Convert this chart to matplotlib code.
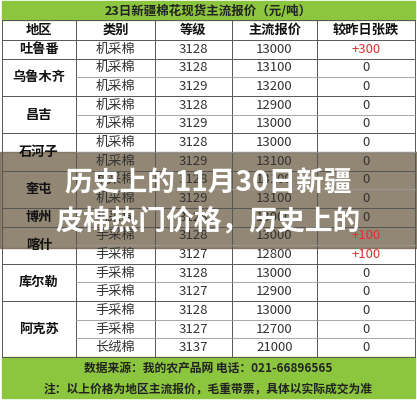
import matplotlib.pyplot as plt
from matplotlib.patches import Rectangle

plt.rcParams['font.family'] = ['Noto Sans CJK SC', 'DejaVu Sans']

title = "23日新疆棉花现货主流报价（元/吨）"
headers = ["地区", "类别", "等级", "主流报价", "较昨日张跌"]
regions = [("吐鲁番", 1), ("乌鲁木齐", 2), ("昌吉", 2), ("石河子", 2), ("奎屯", 2),
           ("博州", 1), ("喀什", 2), ("库尔勒", 2), ("阿克苏", 3)]
kinds = ["机采棉"] * 10 + ["手采棉"] * 6 + ["长绒棉"]
grades = [3128, 3128, 3129, 3128, 3129, 3128, 3129, 3128, 3129, 3128,
          3128, 3127, 3128, 3127, 3128, 3127, 3137]
prices = [13000, 13100, 13200, 12900, 13000, 13000, 13100, 13100, 13100, 13000,
          13000, 12800, 13000, 12900, 13000, 12700, 21000]
changes = ["+300", "0", "0", "0", "0", "0", "0", "0", "0", "0",
           "+100", "+100", "0", "0", "0", "0", "0"]
footer1 = "数据来源：我的农产品网 电话：021-66896565"
footer2 = "注：以上价格为地区主流报价，毛重带票，具体以实际成交为准"
overlay = ["历史上的11月30日新疆", "皮棉热门价格，历史上的"]

W, H = 417, 400
fig = plt.figure(figsize=(W / 100, H / 100), dpi=100)
ax = fig.add_axes([0, 0, 1, 1])
ax.set_xlim(0, W)
ax.set_ylim(H, 0)
ax.axis('off')

green = '#8cc63e'
cols = [2, 76, 155, 232, 317, 415]
top, head_h, row_h = 20, 20, 18.65
body_top = top + head_h
n = len(kinds)
body_bot = body_top + n * row_h

ax.add_patch(Rectangle((0, 0), W, H, color='white'))
ax.add_patch(Rectangle((2, 1), 413, top - 1, color=green))
ax.text(208, top / 2 + 1, title, ha='center', va='center', fontsize=9, weight='bold',
        color='#222222')
for i, h in enumerate(headers):
    ax.text((cols[i] + cols[i + 1]) / 2, top + head_h / 2, h, ha='center', va='center',
            fontsize=9.5, weight='bold', color='#111111')
lc = '#555555'
ax.plot([2, 415], [top, top], color=lc, lw=0.7)
ax.plot([2, 415], [body_top, body_top], color=lc, lw=0.7)
for x in cols:
    ax.plot([x, x], [top, body_bot], color=lc, lw=0.7)

r = 0
for name, span in regions:
    y0 = body_top + r * row_h
    ax.text((cols[0] + cols[1]) / 2, y0 + span * row_h / 2, name, ha='center', va='center',
            fontsize=9.5, weight='bold', color='#111111')
    ax.plot([2, 415], [y0 + span * row_h] * 2, color=lc, lw=0.7)
    for k in range(1, span):
        ax.plot([cols[1], 415], [y0 + k * row_h] * 2, color='#999999', lw=0.6)
    r += span

for i in range(n):
    yc = body_top + (i + 0.5) * row_h
    vals = [kinds[i], str(grades[i]), str(prices[i]), changes[i]]
    for j, v in enumerate(vals):
        c = '#e03030' if (j == 3 and v.startswith('+')) else '#333333'
        ax.text((cols[j + 1] + cols[j + 2]) / 2, yc, v, ha='center', va='center',
                fontsize=9.5, color=c)

ax.add_patch(Rectangle((2, body_bot), 413, H - body_bot - 2, color=green))
ax.text(208, body_bot + 11, footer1, ha='center', va='center', fontsize=8.5,
        weight='bold', color='#222222')
ax.text(208, body_bot + 32, footer2, ha='center', va='center', fontsize=8.5,
        weight='bold', color='#222222')

ax.add_patch(Rectangle((0, 152), W, 96, color='#6e5f45', alpha=0.75))
ax.text(208, 183, overlay[0], ha='center', va='center', fontsize=20, weight='bold', color='white')
ax.text(208, 221, overlay[1], ha='center', va='center', fontsize=20, weight='bold', color='white')

fig.savefig('out.png', dpi=100)
